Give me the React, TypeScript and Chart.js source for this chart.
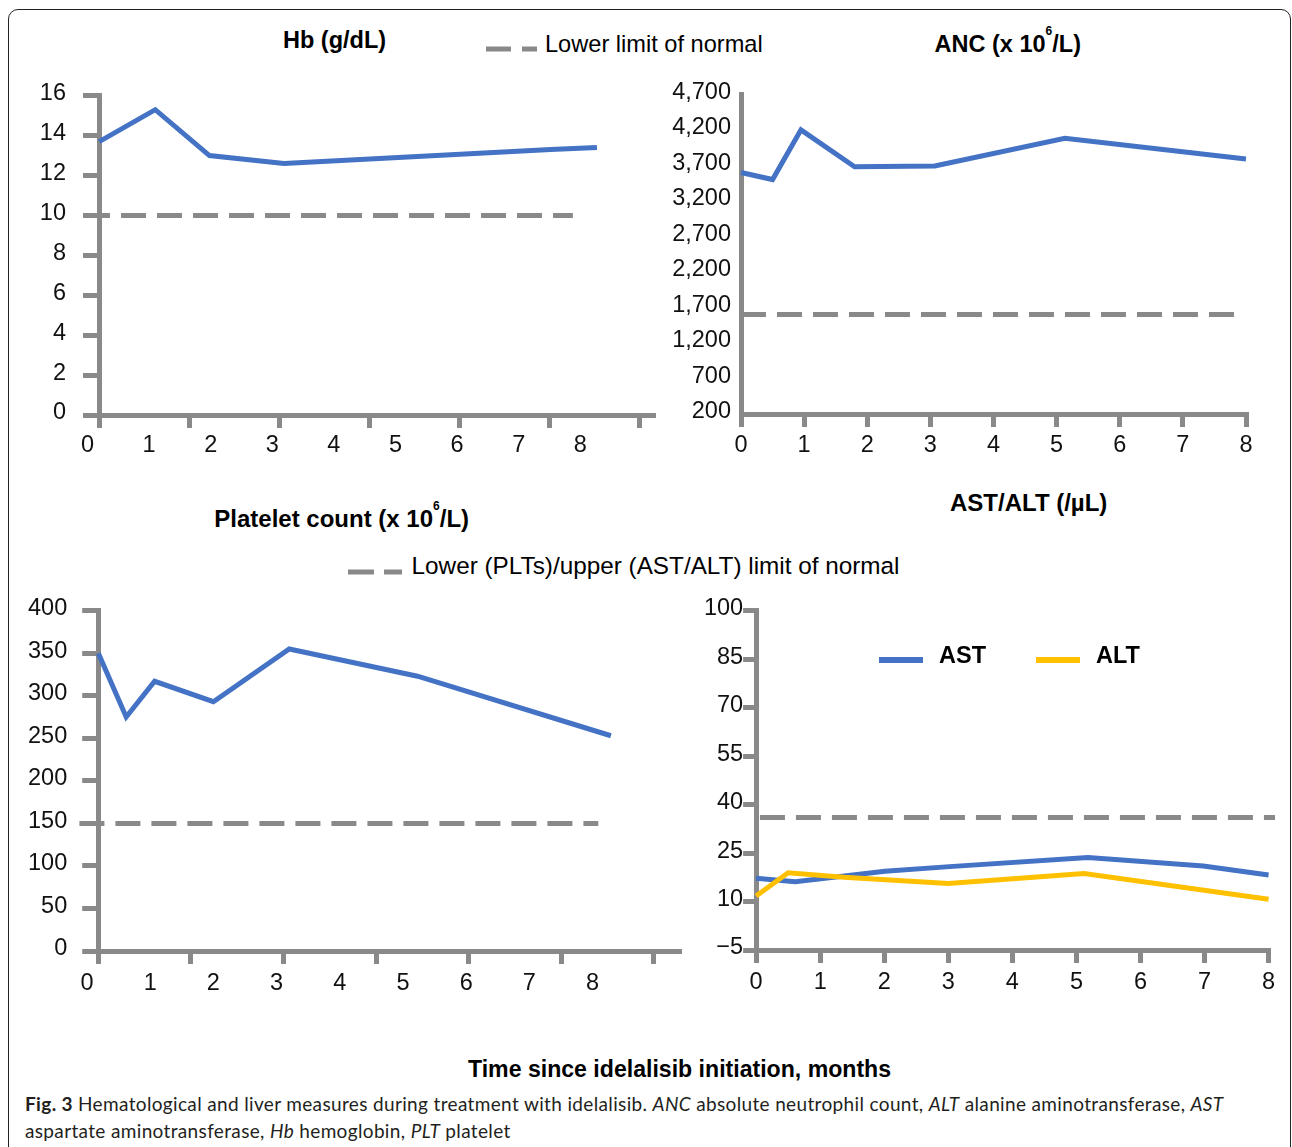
import React, { useEffect, useRef } from 'react';
import { Chart, registerables } from 'chart.js';

Chart.register(...registerables);

const GRAY = '#898989';
const BLUE = '#4472C4';
const GOLD = '#FFC000';
const FONT = "'Liberation Sans', Arial, Helvetica, sans-serif";
const CAPTION_FONT = "Lato, 'Open Sans', sans-serif";

// shared month tick labels
const monthTicks = [0, 1, 2, 3, 4, 5, 6, 7, 8];

// Hb (g/dL)
const hbMonths = [0.19, 1.1, 1.98, 3.19, 7.52, 8.27];
const hbValues = [13.7, 15.3, 13.0, 12.6, 13.3, 13.4];
const hbLimitMonths = [-0.04, 7.88];
const hbLimit = 10;

// ANC (x 10^6/L)
const ancMonths = [0, 0.5, 0.95, 1.8, 3.07, 5.13, 8];
const ancValues = [3600, 3500, 4200, 3680, 3690, 4080, 3790];
const ancLimitMonths = [0, 7.88];
const ancLimit = 1600;

// Platelet count (x 10^6/L)
const pltMonths = [0.18, 0.62, 1.07, 2.0, 3.2, 5.23, 8.29];
const pltValues = [350, 275, 317, 293, 355, 323, 253];
const pltLimitMonths = [-0.12, 8.09];
const pltLimit = 150;

// AST / ALT (/µL)
const astMonths = [0, 0.61, 2.01, 3.02, 5.18, 6.98, 8];
const astValues = [17.2, 16.1, 19.4, 20.8, 23.6, 21.0, 18.2];
const altMonths = [0, 0.5, 1.37, 3.0, 5.12, 8];
const altValues = [11.7, 18.9, 17.5, 15.6, 18.7, 10.7];
const liverLimitMonths = [0.06, 8.1];
const liverLimit = 36;

function lineSet(xs: number[], ys: number[], color: string, dashed = false) {
  return {
    type: 'line',
    data: xs.map((x, i) => ({ x, y: ys[i] })),
    borderColor: color,
    backgroundColor: color,
    borderWidth: 5,
    borderDash: dashed ? [25, 11] : [],
    pointRadius: 0,
    pointHoverRadius: 0,
    tension: 0,
    fill: false,
    clip: false,
    borderCapStyle: 'butt',
    borderJoinStyle: 'miter',
  };
}

interface PanelSpec {
  left: number;
  top: number;
  width: number;
  height: number;
  plotLeft: number;
  plotTop: number;
  plotRight: number;
  yMin: number;
  yMax: number;
  yStep: number;
  yTickLen: number;
  yPad: number;
  yFormat?: (v: number) => string;
  xMin: number;
  xMax: number;
  markMax?: number; // when tick marks are spaced independently of labels
  xPad: number;
  datasets: any[];
}

const tickFont = { family: FONT, size: 23.5 };

function buildConfig(p: PanelSpec): any {
  const split = p.markMax !== undefined;
  const scales: any = {
    x: {
      type: 'linear',
      position: 'bottom',
      weight: split ? 1 : 0,
      min: p.xMin,
      max: p.xMax,
      afterFit: (s: any) => {
        s.height = split ? 40 : 53;
      },
      ticks: {
        stepSize: 1,
        autoSkip: false,
        maxRotation: 0,
        padding: p.xPad,
        font: tickFont,
        color: '#111',
        includeBounds: false,
      },
      grid: split
        ? { display: false, drawTicks: false }
        : {
            display: true,
            drawOnChartArea: false,
            drawTicks: true,
            tickLength: 13,
            lineWidth: 5,
            color: GRAY,
            tickWidth: 5,
            tickColor: GRAY,
          },
      border: split ? { display: false } : { display: true, width: 5, color: GRAY },
    },
    y: {
      type: 'linear',
      position: 'left',
      min: p.yMin,
      max: p.yMax,
      afterFit: (s: any) => {
        s.width = p.plotLeft - p.left;
      },
      ticks: {
        stepSize: p.yStep,
        padding: p.yPad,
        labelOffset: -2,
        font: tickFont,
        color: '#111',
        callback: p.yFormat ? (v: any) => p.yFormat!(Number(v)) : undefined,
      },
      grid:
        p.yTickLen > 0
          ? {
              display: true,
              drawOnChartArea: false,
              drawTicks: true,
              tickLength: p.yTickLen,
              lineWidth: 5,
              color: GRAY,
            }
          : { display: false, drawTicks: false },
      border: { display: true, width: 5, color: GRAY },
    },
  };
  if (split) {
    scales.x.afterBuildTicks = (axis: any) => {
      axis.ticks = monthTicks.map((v) => ({ value: v }));
    };
    scales.xt = {
      type: 'linear',
      position: 'bottom',
      weight: 0,
      min: 0,
      max: p.markMax,
      afterFit: (s: any) => {
        s.height = 13;
      },
      ticks: { display: false, stepSize: 1, includeBounds: false },
      grid: {
        display: true,
        drawOnChartArea: false,
        drawTicks: true,
        tickLength: 13,
        lineWidth: 5,
        color: GRAY,
      },
      border: { display: true, width: 5, color: GRAY },
    };
  }
  return {
    type: 'line',
    data: { datasets: p.datasets },
    options: {
      responsive: false,
      animation: false,
      devicePixelRatio: 1,
      events: [],
      layout: {
        padding: {
          top: p.plotTop - p.top,
          right: p.left + p.width - p.plotRight,
          left: 0,
          bottom: 0,
        },
      },
      plugins: {
        legend: { display: false },
        tooltip: { enabled: false },
        title: { display: false },
      },
      scales,
    },
  };
}

const panels: PanelSpec[] = [
  {
    left: 0, top: 60, width: 690, height: 408,
    plotLeft: 99, plotTop: 95.7, plotRight: 653,
    yMin: 0, yMax: 16, yStep: 2, yTickLen: 16, yPad: 17,
    xMin: (99 - 87.5) / 61.6, xMax: (653 - 87.5) / 61.6, markMax: (653 - 99) / 90.1, xPad: 3,
    datasets: [
      lineSet(hbLimitMonths, [hbLimit, hbLimit], GRAY, true),
      lineSet(hbMonths, hbValues, BLUE),
    ],
  },
  {
    left: 660, top: 60, width: 632, height: 407,
    plotLeft: 741, plotTop: 94.3, plotRight: 1246,
    yMin: 200, yMax: 4700, yStep: 500, yTickLen: 0, yPad: 10,
    yFormat: (v) => v.toLocaleString('en-US'),
    xMin: 0, xMax: 8, xPad: 4.5,
    datasets: [
      lineSet(ancLimitMonths, [ancLimit, ancLimit], GRAY, true),
      lineSet(ancMonths, ancValues, BLUE),
    ],
  },
  {
    left: 0, top: 580, width: 700, height: 424,
    plotLeft: 98.2, plotTop: 610.7, plotRight: 679,
    yMin: 0, yMax: 400, yStep: 50, yTickLen: 16, yPad: 15,
    xMin: (98.2 - 87) / 63.2, xMax: (679 - 87) / 63.2, markMax: (679 - 98.2) / 92.6, xPad: 5,
    datasets: [
      lineSet(pltLimitMonths, [pltLimit, pltLimit], GRAY, true),
      lineSet(pltMonths, pltValues, BLUE),
    ],
  },
  {
    left: 680, top: 580, width: 612, height: 423,
    plotLeft: 756.1, plotTop: 610.7, plotRight: 1268.6,
    yMin: -5, yMax: 100, yStep: 15, yTickLen: 13, yPad: 0,
    yFormat: (v) => String(v).replace('-', '\u2212'),
    xMin: 0, xMax: 8, xPad: 5.5,
    datasets: [
      lineSet(liverLimitMonths, [liverLimit, liverLimit], GRAY, true),
      lineSet(altMonths, altValues, GOLD),
      lineSet(astMonths, astValues, BLUE),
    ],
  },
];

function Panel({ spec }: { spec: PanelSpec }) {
  const ref = useRef<HTMLCanvasElement | null>(null);
  useEffect(() => {
    if (!ref.current) return;
    const chart = new Chart(ref.current, buildConfig(spec));
    return () => chart.destroy();
  }, [spec]);
  return (
    <canvas
      ref={ref}
      width={spec.width}
      height={spec.height}
      style={{
        position: 'absolute',
        left: spec.left,
        top: spec.top,
        width: spec.width,
        height: spec.height,
      }}
    />
  );
}

function Txt(props: {
  x: number;
  cy: number;
  size?: number;
  bold?: boolean;
  children: React.ReactNode;
}) {
  const size = props.size ?? 23.5;
  return (
    <div
      style={{
        position: 'absolute',
        left: props.x,
        top: props.cy - size * 0.49,
        fontSize: size,
        lineHeight: 1,
        fontWeight: props.bold ? 700 : 400,
        whiteSpace: 'nowrap',
        fontFamily: FONT,
        color: '#000',
      }}
    >
      {props.children}
    </div>
  );
}

function DashSample({ x1, x2, y, dash }: { x1: number; x2: number; y: number; dash: string }) {
  const w = x2 - x1;
  return (
    <svg
      width={w}
      height={6}
      style={{ position: 'absolute', left: x1, top: y - 3 }}
    >
      <line x1={0} y1={3} x2={w} y2={3} stroke={GRAY} strokeWidth={5} strokeDasharray={dash} />
    </svg>
  );
}

function SolidSample({ x1, x2, y, color }: { x1: number; x2: number; y: number; color: string }) {
  return (
    <div
      style={{
        position: 'absolute',
        left: x1,
        top: y - 3,
        width: x2 - x1,
        height: 6,
        background: color,
      }}
    />
  );
}

const Sup = ({ children }: { children: React.ReactNode }) => (
  <span style={{ fontSize: 12, position: 'relative', top: -17 }}>{children}</span>
);

export default function App() {
  return (
    <div
      style={{
        position: 'absolute',
        left: 0,
        top: 0,
        width: 1292,
        height: 1147,
        overflow: 'hidden',
        background: '#fff',
        fontFamily: FONT,
      }}
    >
      <div
        style={{
          position: 'absolute',
          left: 8,
          top: 9,
          width: 1283,
          height: 1300,
          border: '1.5px solid #222',
          borderRadius: 10,
          boxSizing: 'border-box',
        }}
      />
      {panels.map((p, i) => (
        <Panel key={i} spec={p} />
      ))}

      <Txt x={283} cy={41} bold>Hb (g/dL)</Txt>
      <DashSample x1={486} x2={537} y={49} dash="25 11" />
      <Txt x={545} cy={45} size={23.6}>Lower limit of normal</Txt>
      <Txt x={934.6} cy={44.3} bold>
        ANC (x 10<Sup>6</Sup>/L)
      </Txt>

      <Txt x={214.3} cy={518.3} bold size={24}>
        Platelet count (x 10<Sup>6</Sup>/L)
      </Txt>
      <Txt x={950} cy={502.5} bold size={24}>AST/ALT (/µL)</Txt>
      <DashSample x1={348} x2={402} y={572} dash="26 10" />
      <Txt x={411.6} cy={566} size={24.3}>Lower (PLTs)/upper (AST/ALT) limit of normal</Txt>

      <SolidSample x1={879} x2={923} y={659.7} color={BLUE} />
      <Txt x={939} cy={656} bold>AST</Txt>
      <SolidSample x1={1036} x2={1080} y={659.7} color={GOLD} />
      <Txt x={1096} cy={656} bold>ALT</Txt>

      <Txt x={468} cy={1069} bold size={23.1}>Time since idelalisib initiation, months</Txt>

      <div
        style={{
          position: 'absolute',
          left: 25,
          top: 1090,
          fontFamily: CAPTION_FONT,
          fontSize: 19,
          letterSpacing: '0.35px',
          lineHeight: '27px',
          color: '#231f20',
          whiteSpace: 'nowrap',
        }}
      >
        <b>Fig. 3</b> Hematological and liver measures during treatment with idelalisib. <i>ANC</i> absolute
        neutrophil count, <i>ALT</i> alanine aminotransferase, <i>AST</i>
        <br />
        aspartate aminotransferase, <i>Hb</i> hemoglobin, <i>PLT</i> platelet
      </div>
    </div>
  );
}
